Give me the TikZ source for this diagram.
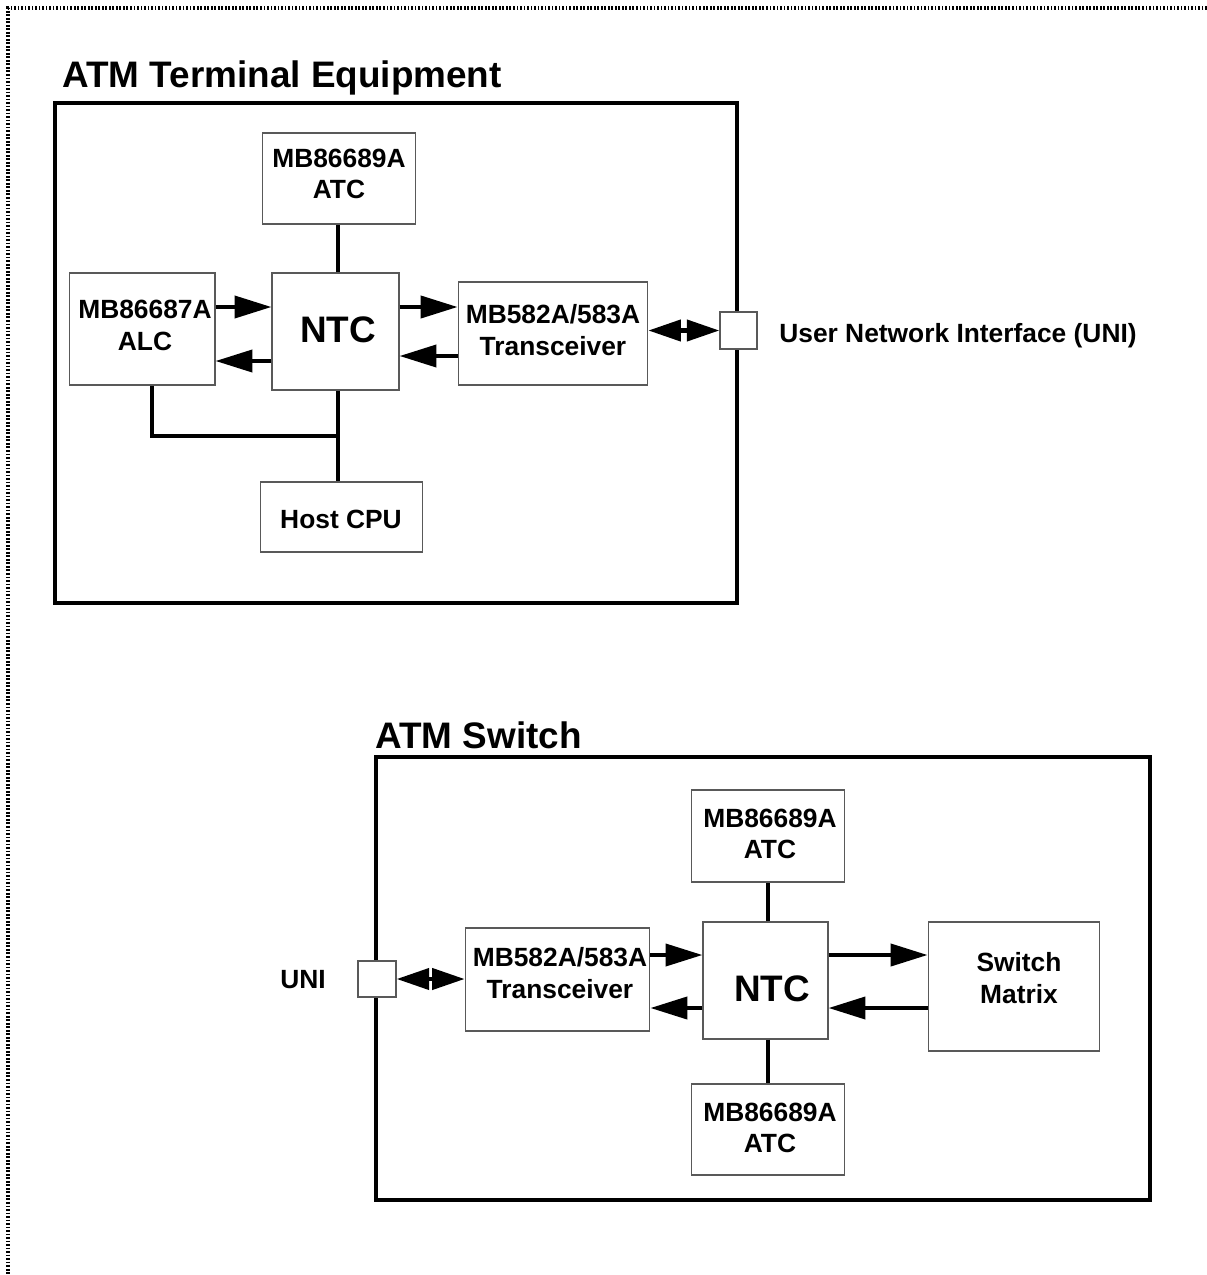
\documentclass[tikz,border=0pt]{standalone}
\usepackage{fontspec}
\setmainfont{Liberation Sans}
\usetikzlibrary{arrows.meta}
\begin{document}
\begin{tikzpicture}[x=0.02cm,y=-0.02cm,
  box/.style={draw=black!65, line width=0.9pt, fill=white, inner sep=0pt},
  sz/.style 2 args={minimum width=#1*0.5669pt, minimum height=#2*0.5669pt},
  txt/.style={inner sep=0pt, align=center, font=\bfseries\fontsize{15}{18}\selectfont},
  big/.style={inner sep=0pt, font=\bfseries\fontsize{21}{25}\selectfont},
  frame/.style={draw=black, line width=2.4pt},
  arr/.style={line width=2.3pt, -{Triangle[length=21pt,width=12.5pt]}},
  darr/.style={line width=2.3pt, {Triangle[length=18.5pt,width=12pt]}-{Triangle[length=18.5pt,width=12pt]}},
  link/.style={line width=2.3pt},
  title/.style={font=\bfseries\fontsize{21}{25}\selectfont, anchor=base west, inner sep=0pt},
  lbl/.style={font=\bfseries\fontsize{15}{18}\selectfont, anchor=base west, inner sep=0pt}]
\useasboundingbox (0,0) rectangle (1207,1275);
\draw[line width=1.8pt, dash pattern=on 1pt off 1pt] (1207,8) -- (8,8) -- (8,1275);

% ---------- ATM Terminal Equipment ----------
\node[title] (t1) at (62,87) {ATM Terminal Equipment};
\draw[frame] (55,103) rectangle (737,603);

\node[box, sz={154}{91}] (atc1) at (339,178.5) {};
\node[box, sz={127}{117}] (ntc1) at (335.5,331.5) {};
\node[box, sz={146}{112}] (alc) at (142,329) {};
\node[box, sz={190}{103}] (tr1) at (553,333.5) {};
\node[box, sz={37}{37}] (uni1) at (738.5,330.5) {};
\node[box, sz={163}{70}] (cpu) at (341.5,517) {};

\node[txt] (atc1t) at (339,174) {MB86689A\\ATC};
\node[big] (ntc1t) at (338,330) {NTC};
\node[txt] (alct) at (145,325.5) {MB86687A\\ALC};
\node[txt] (tr1t) at (553,330) {MB582A/583A\\Transceiver};
\node[txt] (cput) at (341,519) {Host CPU};
\node[lbl] (unil) at (779,342) {User Network Interface (UNI)};

\draw[link] ([xshift=1.4pt]ntc1.north) -- ([xshift=1.4pt]ntc1.north |- atc1.south);
\draw[link] ([xshift=1.4pt]ntc1.south) -- ([xshift=1.4pt]ntc1.south |- cpu.north);
\draw[link] ([xshift=5.7pt]alc.south) |- ([xshift=1.4pt]ntc1.south |- 0,436);
\draw[arr] (alc.east |- 0,307) -- (ntc1.west |- 0,307);
\draw[arr] (ntc1.west |- 0,361) -- (alc.east |- 0,361);
\draw[arr] (ntc1.east |- 0,307) -- (tr1.west |- 0,307);
\draw[arr] (tr1.west |- 0,356) -- (ntc1.east |- 0,356);
\draw[darr] (tr1.east |- uni1.west) -- (uni1.west);

% ---------- ATM Switch ----------
\node[title] (t2) at (375,748) {ATM Switch};
\draw[frame] (376,757) rectangle (1150,1200);

\node[box, sz={154}{92}] (atc2) at (768,836) {};
\node[box, sz={125}{117}] (ntc2) at (765.5,980.5) {};
\node[box, sz={154}{91}] (atc3) at (768,1129.5) {};
\node[box, sz={172}{129}] (sm) at (1014,986.5) {};
\node[box, sz={185}{103}] (tr2) at (557.5,979.5) {};
\node[box, sz={38}{36}] (uni2) at (377,979) {};

\node[txt] (atc2t) at (770,834) {MB86689A\\ATC};
\node[big] (ntc2t) at (772,989) {NTC};
\node[txt] (atc3t) at (770,1128) {MB86689A\\ATC};
\node[txt] (smt) at (1019,978) {Switch\\Matrix};
\node[txt] (tr2t) at (560,973) {MB582A/583A\\Transceiver};
\node[lbl] (unil2) at (280,988) {UNI};

\draw[link] ([xshift=1.4pt]ntc2.north) -- ([xshift=1.4pt]ntc2.north |- atc2.south);
\draw[link] ([xshift=1.4pt]ntc2.south) -- ([xshift=1.4pt]ntc2.south |- atc3.north);
\draw[arr] (tr2.east |- 0,955) -- (ntc2.west |- 0,955);
\draw[arr] (ntc2.west |- 0,1008) -- (tr2.east |- 0,1008);
\draw[arr] (ntc2.east |- 0,955) -- (sm.west |- 0,955);
\draw[arr] (sm.west |- 0,1008) -- (ntc2.east |- 0,1008);
\draw[darr] (uni2.east) -- (tr2.west |- uni2.east);
\end{tikzpicture}
\end{document}
